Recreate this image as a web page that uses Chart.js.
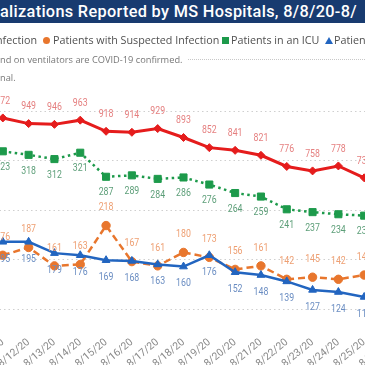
<!DOCTYPE html>
<html>
<head>
<meta charset="utf-8">
<script src="https://cdn.jsdelivr.net/npm/chart.js@4.4.0/dist/chart.umd.min.js"></script>
<style>
  html, body { margin: 0; padding: 0; width: 365px; height: 365px; overflow: hidden; background: #fff; }
  body { position: relative; }
  #wrap { position: absolute; left: -93.3px; top: 0; width: 533px; height: 420px; }
  #title { position: absolute; left: 0; top: 0; width: 365px; height: 23px; background: #183B70; color: #fff;
           font: 500 16.3px 'Roboto', sans-serif; letter-spacing: 0.32px;
           line-height: 23px; white-space: nowrap; overflow: hidden; }
  .lg { position: absolute; top: 33px; font: 10.75px 'Open Sans', sans-serif; color: #505050; white-space: nowrap; }
  .note { position: absolute; left: 0; font: 9.25px 'Open Sans', sans-serif; color: #777; white-space: nowrap; }
  .mk { position: absolute; }
</style>
</head>
<body>
<div id="wrap"><canvas id="c" width="533" height="420"></canvas></div>
<div id="title">alizations Reported by MS Hospitals, 8/8/20-8/</div>
<span class="lg" style="right:328px">Patients with Confirmed Infection</span>
<span class="mk" style="left:43px;top:37px;width:7px;height:7px;border-radius:50%;background:#E8762D"></span>
<span class="lg" style="left:53px">Patients with Suspected Infection</span>
<span class="mk" style="left:222px;top:37px;width:7px;height:7px;background:#1D9A4B"></span>
<span class="lg" style="left:231px">Patients in an ICU</span>
<span class="mk" style="left:325px;top:37px;width:0;height:0;border-left:4px solid transparent;border-right:4px solid transparent;border-bottom:7px solid #2265C0"></span>
<span class="lg" style="left:334px">Patients on Ventilators</span>
<span class="note" style="top:53px">nd on ventilators are COVID-19 confirmed.</span>
<div style="position:absolute;left:188px;top:59px;width:177px;border-top:1px dotted #c8c8c8"></div>
<span class="note" style="top:71px">nal.</span>
<script>
// dates shown on the axis (8/10 and 8/26 sit at the crop edges)
const dates = ['8/10/20', '8/11/20', '8/12/20', '8/13/20', '8/14/20', '8/15/20', '8/16/20', '8/17/20', '8/18/20',
               '8/19/20', '8/20/20', '8/21/20', '8/22/20', '8/23/20', '8/24/20', '8/25/20', '8/26/20'];
const confirmed   = [null, 972, 949, 946, 963, 918, 914, 929, 893, 852, 841, 821, 776, 758, 778, 730, null];
const suspected   = [null, 176, 187, 161, 163, 218, 167, 161, 180, 173, 156, 161, 142, 145, 142, 148, null];
const icu         = [null, 323, 318, 312, 321, 287, 289, 284, 286, 276, 264, 259, 241, 237, 234, 232, null];
const ventilators = [null, 195, 195, 179, 176, 169, 168, 163, 160, 176, 152, 148, 139, 127, 124, 117, null];

const LABEL_FONT = "10.7px 'Roboto', sans-serif";

// draws the value next to every point, squeezed a little like the DIN labels
const valueLabels = {
  id: 'valueLabels',
  afterDatasetsDraw(chart) {
    const ctx = chart.ctx;
    chart.data.datasets.forEach((ds, i) => {
      const meta = chart.getDatasetMeta(i);
      meta.data.forEach((pt, j) => {
        const v = ds.data[j];
        if (v == null) return;
        ctx.save();
        ctx.font = LABEL_FONT;
        ctx.fillStyle = ds.labelColor;
        ctx.textAlign = 'center';
        ctx.textBaseline = 'middle';
        ctx.translate(pt.x, pt.y + ds.labelOffset);
        ctx.scale(0.82, 1);
        ctx.fillText(String(v), 0, 0);
        ctx.restore();
      });
    });
  }
};

function series(label, data, color, style, radius, axis, extra) {
  return Object.assign({
    label, data, yAxisID: axis,
    borderColor: color, backgroundColor: color,
    pointBackgroundColor: color, pointBorderColor: color,
    pointStyle: style, pointRadius: radius, pointHoverRadius: radius,
    pointBorderWidth: 1, tension: 0, spanGaps: false,
  }, extra);
}

new Chart(document.getElementById('c'), {
  type: 'line',
  data: {
    labels: dates,
    datasets: [
      series('Patients with Confirmed Infection', confirmed, '#E51C1C', 'rectRot', 4, 'y',
        { borderWidth: 3, labelColor: '#E57F7F', labelOffset: -17, order: 2 }),
      series('Patients with Suspected Infection', suspected, '#E8762D', 'circle', 4.2, 'y2',
        { borderWidth: 2.5, borderDash: [7, 4], labelColor: '#EE9F72', labelOffset: -18, order: 4 }),
      series('Patients in an ICU', icu, '#1D9A4B', 'rect', 5, 'y2',
        { borderWidth: 2.5, borderDash: [2.5, 3.5], labelColor: '#5C9E78', labelOffset: 16, order: 3 }),
      series('Patients on Ventilators', ventilators, '#2265C0', 'triangle', 4.5, 'y2',
        { borderWidth: 2.5, labelColor: '#6A8DC2', labelOffset: 17, order: 1 }),
    ],
  },
  options: {
    responsive: false,
    animation: false,
    layout: { padding: { left: 70, right: 50, top: 111, bottom: 0 } },
    plugins: { legend: { display: false }, title: { display: false }, tooltip: { enabled: false } },
    scales: {
      x: {
        grid: { display: false, drawTicks: false },
        border: { display: false },
        ticks: {
          color: '#8a8a8a', autoSkip: false, minRotation: 40, maxRotation: 40, padding: 27,
          font: { family: "'Roboto', sans-serif", size: 10.5 },
        },
        afterFit: s => { s.height = 111; },
      },
      y: {
        min: 200, max: 1000,
        ticks: { display: false, stepSize: 200 },
        grid: { color: '#cfcfcf', drawTicks: false, lineWidth: 1 },
        border: { display: false, dash: [1.5, 3] },
      },
      y2: { display: false, min: 100, max: 380 },
    },
  },
  plugins: [valueLabels],
});
</script>
</body>
</html>
